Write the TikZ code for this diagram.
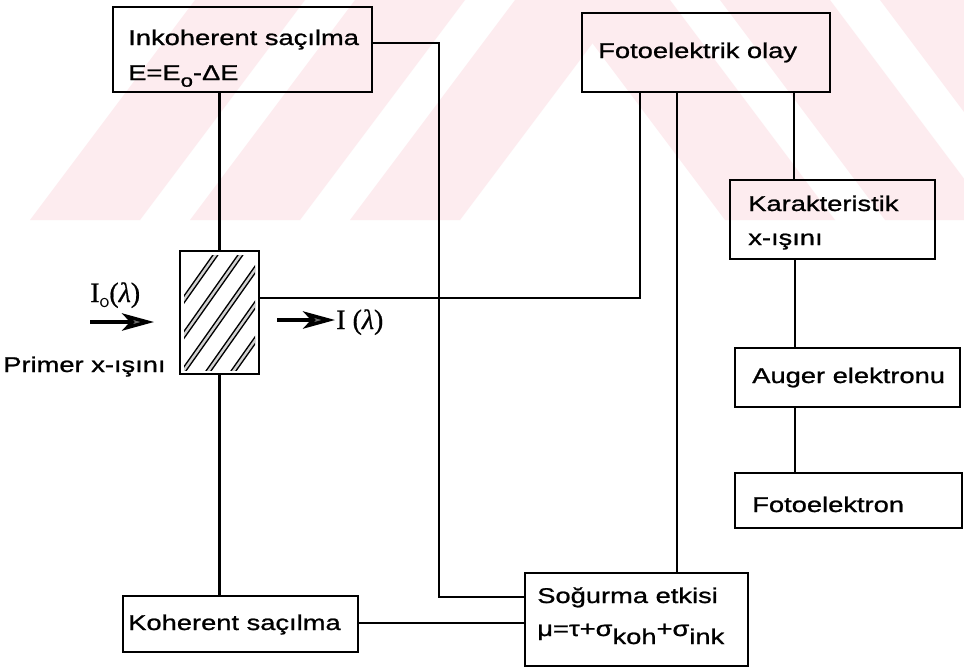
\documentclass[tikz,border=0pt]{standalone}
\usepackage{fontspec}
\setmainfont{Liberation Sans}[FakeStretch=1.28,FakeBold=1.0]
\newfontfamily\labelserif{Liberation Serif}[FakeBold=0.6]
\usetikzlibrary{fit,arrows.meta}
\definecolor{wmark}{RGB}{253,236,239}
\definecolor{tipgray}{RGB}{110,110,110}

\begin{document}
\begin{tikzpicture}[x=0.75pt,y=-0.75pt,
  box/.style={draw, line width=2pt, inner sep=0pt, rectangle},
  wire/.style={line width=1.9pt},
  lbl/.style={anchor=base west, inner sep=0pt, font=\fontsize{16pt}{19pt}\selectfont},
  serifl/.style={anchor=base west, inner sep=0pt, font=\labelserif\fontsize{21pt}{23pt}\selectfont},
  beam/.style={line width=2.6pt, -{Stealth[length=24pt,width=13pt,inset=6pt,fill=tipgray]}},
  stripe/.style={line width=1.1pt, double=gray!35, double distance=1.8pt}]

\fill[white] (0,0) rectangle (964,668);
\useasboundingbox (0,0) rectangle (964,668);

% faint diagonal background band
\begin{scope}
  \clip (0,0) rectangle (964,220);
  \foreach \b in {30,190,350}
    \fill[wmark] (\b,220) -- (\b+110,220) -- (\b+275,0) -- (\b+165,0) -- cycle;
  \foreach \t in {560,720,880}
    \fill[wmark] (\t,0) -- (\t+110,0) -- (\t+275,220) -- (\t+165,220) -- cycle;
\end{scope}

% boxes
\node[box, fit={(113,7)(372,92)}]   (inko)  {};
\node[box, fit={(582,13)(830,92)}]  (foto)  {};
\node[box, fit={(730,180)(935,259)}] (kar)   {};
\node[box, fit={(735,348)(960,407)}] (auger) {};
\node[box, fit={(735,473)(962,528)}] (felek) {};
\node[box, fit={(123,596)(358,652)}] (koh)   {};
\node[box, fit={(525,573)(748,666)}] (sog)   {};
\node[box, fit={(180,251)(259,374)}] (hat)   {};

% hatching of the sample
\begin{scope}
  \clip (184,255) rectangle (255,370);
  \foreach \c in {395,420,445,470,495}
    \draw[stripe] (\c-169,240) -- (\c-275,390);
\end{scope}

% texts
\node[lbl] (inkoT) at (128,45) {Inkoherent saçılma};
\node[lbl] (inkoE) at (128,80) {E=E\raisebox{-5pt}{\fontsize{13pt}{15pt}\selectfont o}-ΔE};
\node[lbl] (fotoT) at (598,58) {Fotoelektrik olay};
\node[lbl] (karT1) at (748,211) {Karakteristik};
\node[lbl] (karT2) at (748,245) {x-ışını};
\node[lbl] (augT)  at (752,383) {Auger elektronu};
\node[lbl] (felT)  at (752,512) {Fotoelektron};
\node[lbl] (kohT)  at (128,630) {Koherent saçılma};
\node[lbl] (sogT1) at (537,603) {Soğurma etkisi};
\node[lbl] (sogT2) at (537,636) {μ=τ+σ\raisebox{-6pt}{koh}+σ\raisebox{-6pt}{ink}};
\node[lbl] (prim)  at (3,372) {Primer x-ışını};
\node[serifl] (inI)  at (90,302) {I\raisebox{-4pt}{\sffamily\fontsize{15pt}{16pt}\selectfont o}(\textit{λ})};
\node[serifl] (outI) at (336,329) {I (\textit{λ})};

% beams
\coordinate (inA) at (90,322);
\coordinate (inB) at (154,322);
\coordinate (outA) at (277,320);
\coordinate (outB) at (335,320);
\draw[beam] (inA) -- (inB);
\draw[beam] (outA) -- (outB);

% connectors
\draw[wire] (hat.north) -- (hat.north |- inko.south);
\draw[wire] (hat.south) -- (hat.south |- koh.north);
\draw[wire] (inko.east |- 0,43) -- (439,43) |- (sog.west |- 0,597);
\draw[wire] (hat.east |- 0,298) -| (foto.south -| 640,0);
\draw[wire] (foto.south -| 677,0) -- (sog.north -| 677,0);
\draw[wire] (foto.south -| 794,0) -- (kar.north -| 794,0);
\draw[wire] (kar.south -| 795,0) -- (auger.north -| 795,0);
\draw[wire] (auger.south -| 795,0) -- (felek.north -| 795,0);
\draw[wire] (koh.east |- 0,623) -- (sog.west |- 0,623);
\end{tikzpicture}
\end{document}
